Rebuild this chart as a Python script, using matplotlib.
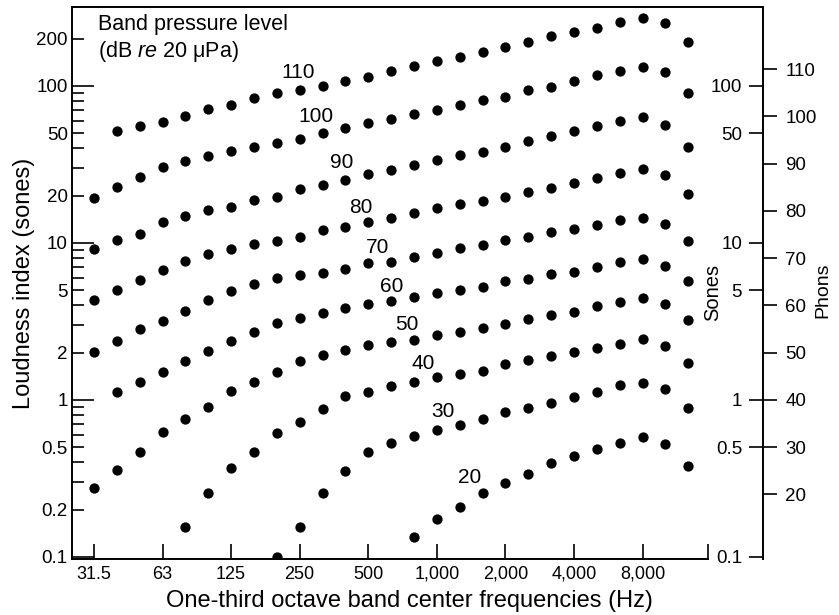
"""
plot.py
loudness index (sones) vs one-third octave band, one row of dots per band level
"""
import numpy as np
import matplotlib
matplotlib.use('Agg')
import matplotlib.pyplot as plt
from matplotlib.ticker import FixedLocator, FixedFormatter, NullLocator, FuncFormatter

plt.rcParams['font.family'] = ['Liberation Sans', 'DejaVu Sans']
plt.rcParams['mathtext.fontset'] = 'custom'
plt.rcParams['mathtext.rm'] = 'Liberation Sans'
plt.rcParams['mathtext.it'] = 'Liberation Sans:italic'

nan = np.nan

# one-third octave band centers (Hz)
bands = ['31.5', '40', '50', '63', '80', '100', '125', '160', '200', '250', '315',
         '400', '500', '630', '800', '1,000', '1,250', '1,600', '2,000', '2,500',
         '3,150', '4,000', '5,000', '6,300', '8,000', '10,000', '12,500']

# band pressure levels, dB re 20 uPa
levels = [110, 100, 90, 80, 70, 60, 50, 40, 30, 20]

# loudness index in sones, one value per band (nan = no dot)
s110 = [nan, 51.6, 55.6, 59.0, 64.4, 71.4, 75.7, 83.9, 90.2, 94.3, 100, 108, 114, 125,
        134, 144, 153, 165, 177, 191, 208, 221, 234, 256, 271, 252, 191]
s100 = [19.4, 22.7, 26.3, 30.5, 33.3, 35.8, 38.5, 40.9, 43.4, 45.9, 50.2, 54.0, 58.1,
        61.6, 66.3, 70.3, 75.7, 81.5, 85.1, 94.3, 98.6, 108, 118, 125, 132, 123, 90.2]
s90 = [9.16, 10.4, 11.4, 13.6, 14.9, 16.2, 17.0, 18.8, 19.6, 22.1, 23.4, 25.2, 27.5,
       29.2, 31.4, 33.8, 36.4, 38.0, 40.9, 44.6, 48.1, 51.6, 55.6, 59.8, 63.5, 56.4, 40.9]
s80 = [4.33, 5.02, 5.81, 6.73, 7.68, 8.51, 9.16, 9.86, 10.3, 10.9, 12.1, 12.6, 13.6,
       14.4, 15.5, 16.7, 17.7, 18.5, 19.6, 21.1, 22.4, 24.1, 25.9, 27.9, 29.6, 27.1, 20.5]
s70 = [2.02, 2.38, 2.83, 3.19, 3.69, 4.33, 4.95, 5.48, 5.98, 6.25, 6.44, 6.83, 7.46,
       7.57, 8.15, 8.64, 9.29, 9.71, 10.4, 10.9, 11.8, 12.3, 13.0, 14.0, 14.4, 13.2, 10.3]
s60 = [nan, 1.12, 1.30, 1.51, 1.77, 2.05, 2.38, 2.71, 3.09, 3.33, 3.58, 3.85, 4.09,
       4.27, 4.53, 4.80, 5.02, 5.24, 5.73, 5.90, 6.35, 6.53, 7.03, 7.57, 7.91, 7.14, 5.73]
s50 = [0.275, 0.358, 0.467, 0.625, 0.757, 0.902, 1.14, 1.30, 1.51, 1.77, 1.94, 2.08,
       2.24, 2.34, 2.41, 2.59, 2.71, 2.87, 3.05, 3.28, 3.48, 3.63, 3.97, 4.21, 4.46, 4.09, 3.23]
s40 = [nan] * 4 + [0.155, 0.256, 0.369, 0.467, 0.616, 0.724, 0.877, 1.06, 1.12, 1.23,
                   1.30, 1.40, 1.46, 1.53, 1.69, 1.80, 1.91, 2.02, 2.14, 2.27, 2.45, 2.21, 1.72]
s30 = [nan] * 8 + [0.10, 0.155, 0.256, 0.353, 0.467, 0.532, 0.590, 0.644, 0.693, 0.757,
                   0.839, 0.889, 0.957, 1.04, 1.12, 1.25, 1.28, 1.17, 0.889]
s20 = [nan] * 14 + [0.134, 0.175, 0.208, 0.256, 0.296, 0.338, 0.397, 0.440, 0.488,
                    0.532, 0.581, 0.525, 0.380]

series = [s110, s100, s90, s80, s70, s60, s50, s40, s30, s20]

# right hand scales
sone_ticks = [0.1, 0.5, 1, 5, 10, 50, 100]
phon_ticks = [20, 30, 40, 50, 60, 70, 80, 90, 100, 110]

x = np.arange(len(bands))

fig = plt.figure(figsize=(8.39, 6.15), dpi=100)
ax = fig.add_axes([72 / 839, 1 - 559 / 615, (763 - 72) / 839, (559 - 7) / 615])

for vals in series:
    ax.plot(x, vals, linestyle='none', marker='o', markersize=6.4, color='black')

# level tags sit just above their row of dots
tag_pos = [(8.92, 122), (9.71, 63.5), (10.85, 32.3), (11.68, 16.7), (12.42, 9.3),
           (13.04, 5.24), (13.69, 3.0), (14.39, 1.70), (15.27, 0.84), (16.45, 0.32)]
for lvl, (tx, ty) in zip(levels, tag_pos):
    ax.text(tx, ty, str(lvl), ha='center', va='center', fontsize=15)

ax.text(0.0376, 0.988, 'Band pressure level\n(dB $\\mathit{re}$ 20 \u03bcPa)',
        transform=ax.transAxes, ha='left', va='top', fontsize=15.5, linespacing=1.25)

ax.set_yscale('log')
ax.set_ylim(0.097, 318)
ax.set_xlim(-0.96, 29.27)

# left axis: long ticks at decades, short ones in between
ax.yaxis.set_major_locator(FixedLocator([0.1, 1, 10, 100]))
ax.yaxis.set_major_formatter(FixedFormatter(['0.1', '1', '10', '100']))
minors = [m * d for d in (0.1, 1, 10) for m in range(2, 10)] + [200]
ax.yaxis.set_minor_locator(FixedLocator(minors))
show = {0.2, 0.5, 2, 5, 20, 50, 200}
ax.yaxis.set_minor_formatter(FuncFormatter(
    lambda v, pos: ('%g' % v) if any(abs(v - s) < 1e-9 for s in show) else ''))
ax.tick_params(axis='y', which='major', direction='in', length=16, width=1.2,
               pad=3, labelsize=13.5)
ax.tick_params(axis='y', which='minor', direction='in', length=8.5, width=1.2,
               pad=3, labelsize=13.5)

ticks_x = list(range(0, 25, 3))
ax.set_xticks(ticks_x)
ax.set_xticklabels([bands[i] for i in ticks_x])
ax.xaxis.set_minor_locator(FixedLocator([26.86]))
ax.tick_params(axis='x', which='both', direction='in', length=10.5, width=1.2,
               pad=5, labelsize=13)

ax.spines['right'].set_visible(False)
ax.spines['bottom'].set_bounds(-0.96, 26.86)
for sp in ('left', 'top', 'bottom'):
    ax.spines[sp].set_linewidth(1.4)

ax.set_ylabel('Loudness index (sones)', fontsize=17)
ax.yaxis.set_label_coords(-0.054, 0.5)
ax.set_xlabel('One-third octave band center frequencies (Hz)', fontsize=17)
ax.xaxis.set_label_coords(0.489, -0.056)

# sones scale, on the left side of the right hand spine
ax_s = ax.twinx()
ax_s.set_yscale('log')
ax_s.set_ylim(ax.get_ylim())
for sp in ax_s.spines.values():
    sp.set_visible(False)
ax_s.spines['left'].set_visible(True)
ax_s.spines['left'].set_position(('axes', 1.0))
ax_s.spines['left'].set_linewidth(1.4)
ax_s.yaxis.set_ticks_position('left')
ax_s.yaxis.set_label_position('left')
ax_s.yaxis.set_major_locator(FixedLocator(sone_ticks))
ax_s.yaxis.set_major_formatter(FixedFormatter(['%g' % s for s in sone_ticks]))
ax_s.yaxis.set_minor_locator(NullLocator())
ax_s.tick_params(axis='y', direction='out', length=10, width=1.2, pad=5, labelsize=13.5)
ax_s.set_ylabel('Sones', fontsize=14.5)
ax_s.yaxis.set_label_coords(0.9407, 0.482)

# phons scale on the outside: 40 phons = 1 sone, doubling every 10 phons
ax_p = ax.twinx()
ax_p.set_yscale('log')
ax_p.set_ylim(ax.get_ylim())
for sp in ax_p.spines.values():
    sp.set_visible(False)
ax_p.yaxis.set_major_locator(FixedLocator([2 ** ((p - 40) / 10) for p in phon_ticks]))
ax_p.yaxis.set_major_formatter(FixedFormatter([str(p) for p in phon_ticks]))
ax_p.yaxis.set_minor_locator(NullLocator())
ax_p.tick_params(axis='y', direction='out', length=10, width=1.2, pad=6, labelsize=13.5)
ax_p.set_ylabel('Phons', fontsize=14)
ax_p.yaxis.set_label_coords(1.075, 0.487)

fig.savefig('out.png', dpi=100)
